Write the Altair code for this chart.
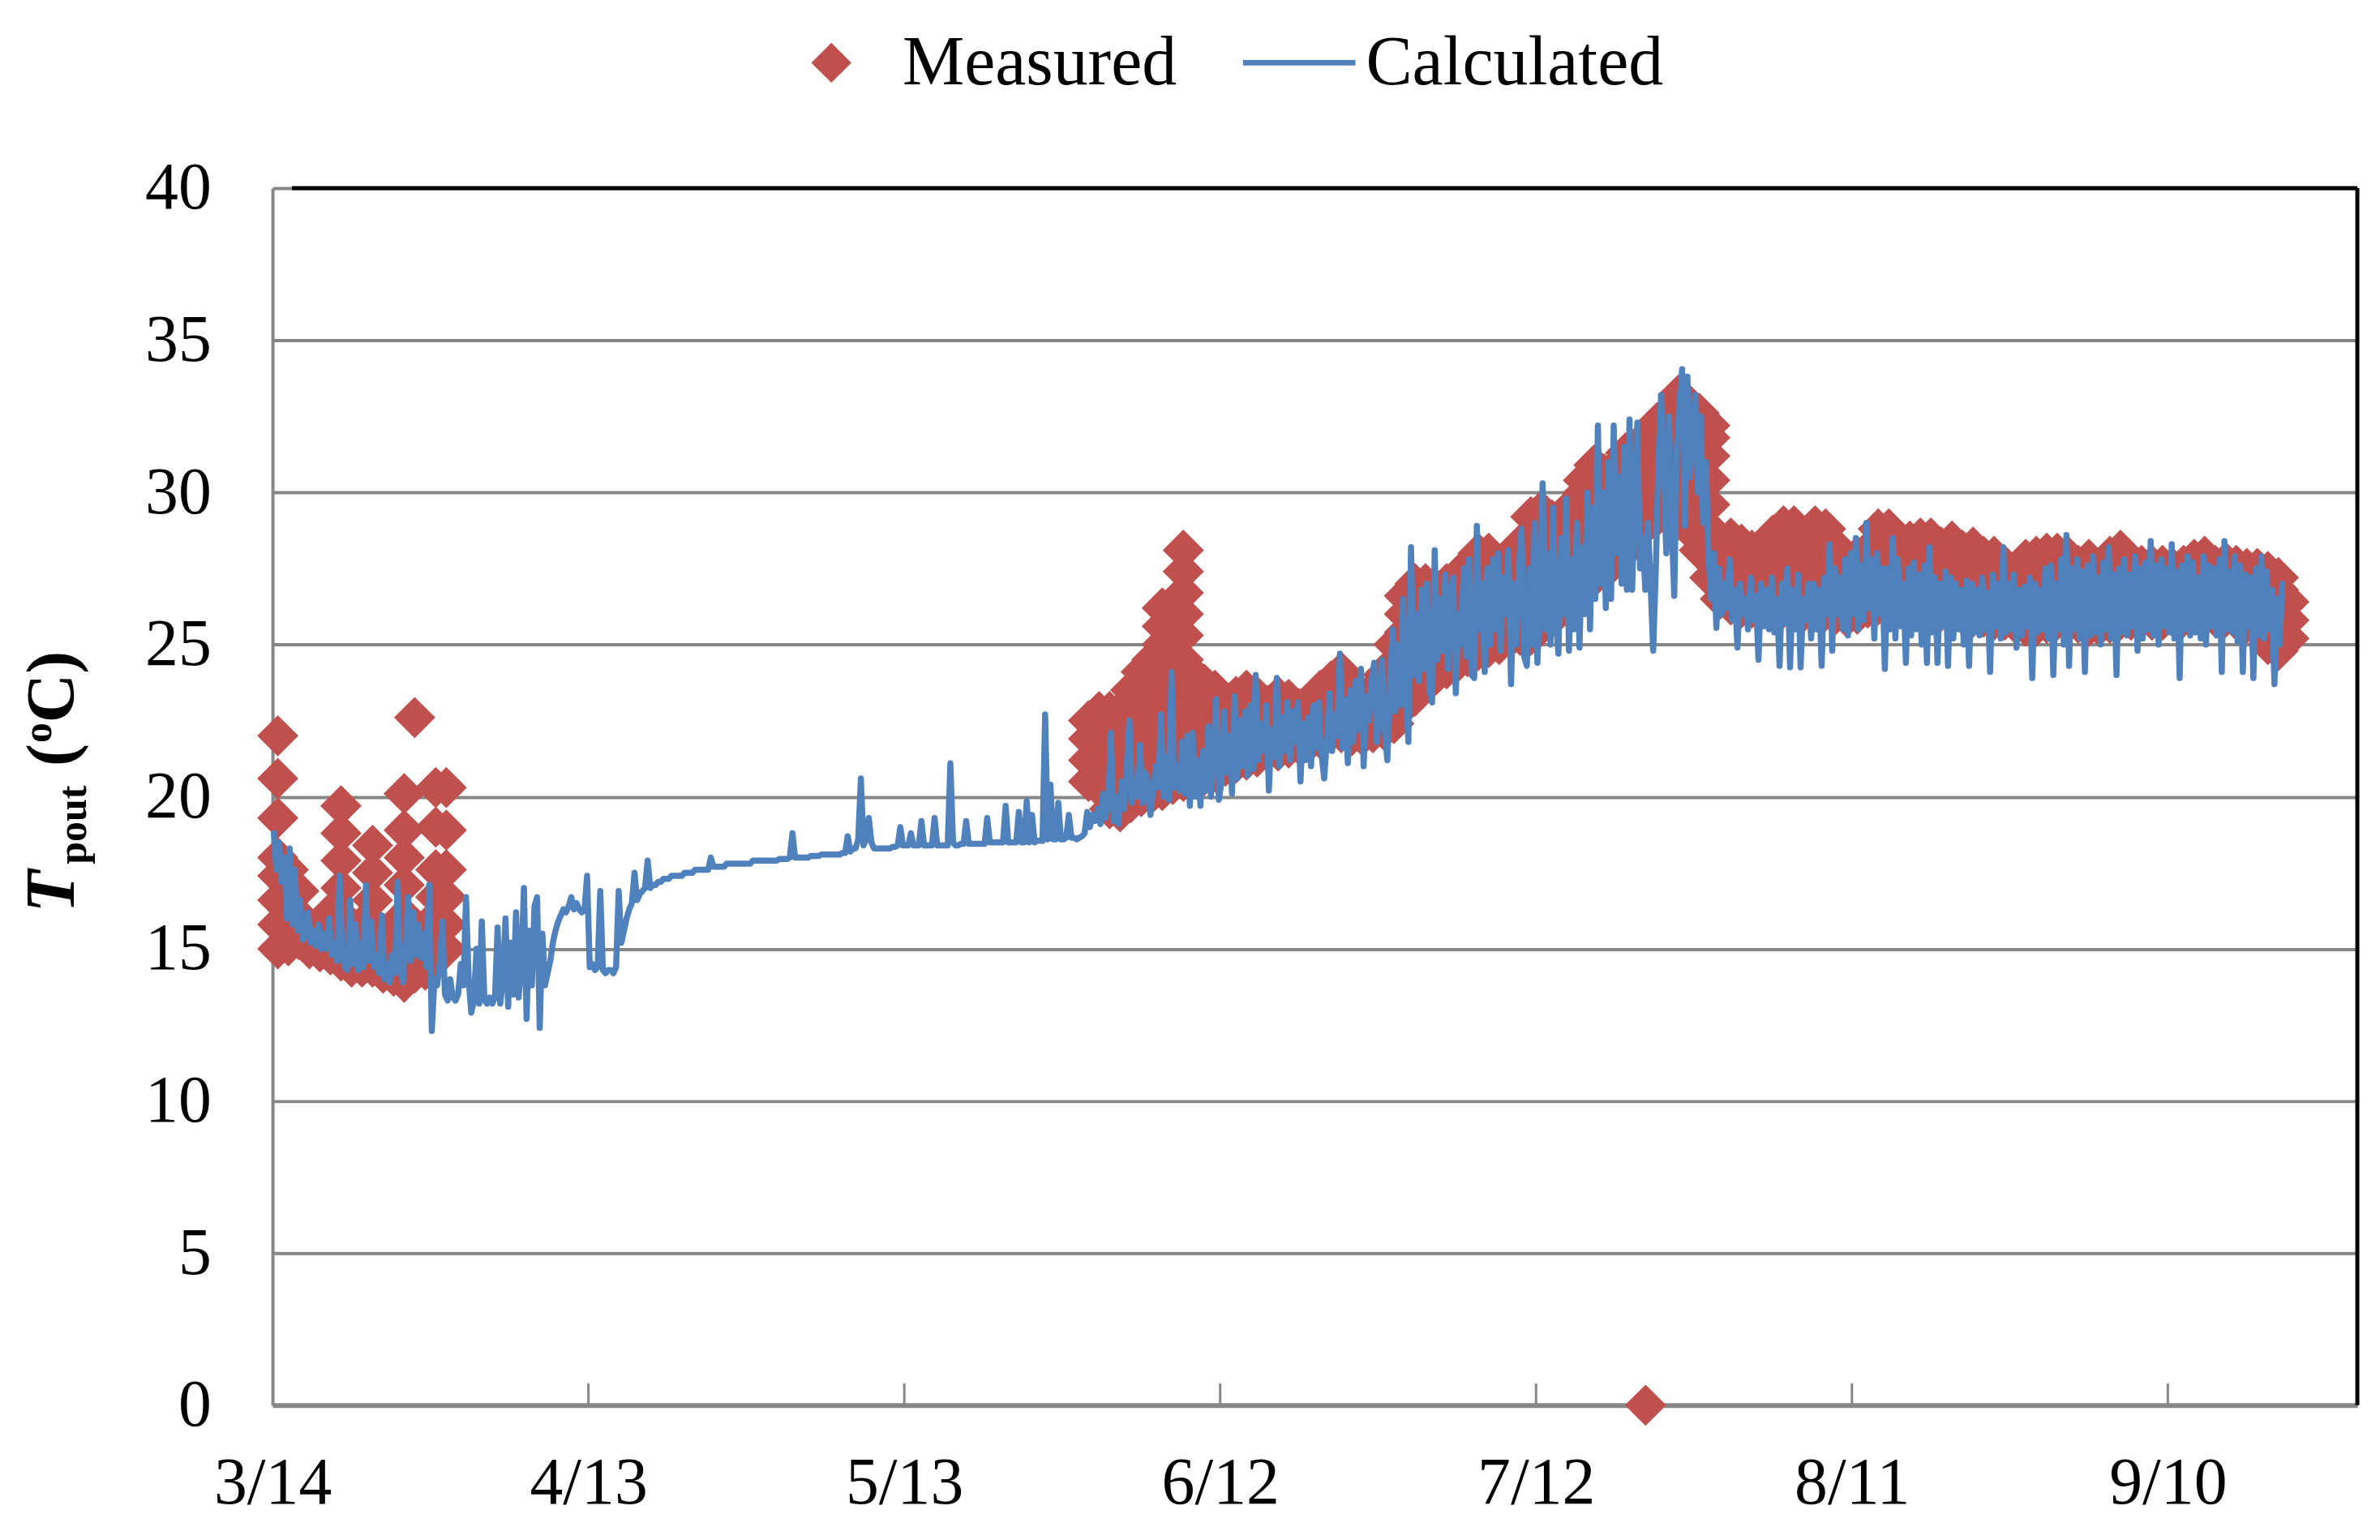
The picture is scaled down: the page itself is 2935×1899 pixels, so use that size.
import altair as alt
import pandas as pd

# ---------------- data (day 0 = 3/14) ----------------
TICK_DAYS = [0, 30, 60, 90, 120, 150, 180]
TICK_LABELS = ["3/14", "4/13", "5/13", "6/12", "7/12", "8/11", "9/10"]
Y_TICKS = [0, 5, 10, 15, 20, 25, 30, 35, 40]

# Measured readings, one list per day
MEAS_EARLY_START = 0
MEAS_EARLY = [
    [15.0, 15.8, 16.6, 17.4, 18.0, 19.3, 20.6, 22.0],
    [15.1, 15.9, 16.8, 17.6],
    [15.3, 16.1, 16.9],
    [15.0, 15.6],
    [14.9, 15.5],
    [14.8, 15.4, 16.2],
    [14.6, 15.3, 16.1, 17.0, 17.9, 18.8, 19.7],
    [14.4, 15.0],
    [14.4, 15.1, 15.8],
    [14.4, 15.1, 15.8, 16.6, 17.5, 18.4],
    [14.2, 14.9],
    [14.1, 14.8, 15.6],
    [13.9, 14.6, 15.3, 16.1, 17.1, 18.0, 18.9, 20.1],
    [14.2, 15.0, 22.6],
    [14.3, 15.0, 15.7],
    [14.9, 15.8, 16.7, 17.6, 19.0, 20.3],
    [15.0, 15.8, 16.7, 17.6, 18.9, 20.3],
]

MEAS_MAIN_START = 77
MEAS_MAIN = [
    [20.5, 21.2, 21.9, 22.5],
    [20.3, 21.0, 21.7, 22.3, 22.8],
    [19.6, 20.4, 21.2, 22.0, 22.8],
    [19.5, 20.3, 21.1, 21.9, 22.8],
    [19.8, 20.6, 21.4, 22.2, 22.9, 23.5],
    [20.0, 20.8, 21.6, 22.4, 23.3, 24.1],
    [20.1, 20.9, 21.7, 22.5, 23.3, 24.0, 24.5],
    [20.2, 21.0, 21.8, 22.6, 23.4, 24.2, 25.0, 25.6, 26.2],
    [20.4, 21.2, 22.0, 22.8, 23.6, 24.3, 25.0],
    [20.5, 21.3, 22.1, 22.9, 23.7, 24.5, 25.3, 26.0, 26.7, 27.4, 28.1],
    [20.6, 21.4, 22.2, 23.0, 23.6, 24.0],
    [20.7, 21.5, 22.3, 23.0, 23.7],
    [20.8, 21.6, 22.4, 23.0, 23.5],
    [21.0, 21.7, 22.3, 22.9],
    [21.1, 21.8, 22.6, 23.3],
    [21.2, 21.9, 22.7, 23.5],
    [21.3, 22.0, 22.7, 23.3],
    [21.5, 22.2, 23.0],
    [21.5, 22.2, 22.8, 23.3],
    [21.6, 22.3, 22.8, 23.2],
    [21.7, 22.3, 22.9],
    [21.8, 22.5, 23.1],
    [21.9, 22.6, 23.1, 23.5],
    [22.1, 22.7, 23.3, 23.8],
    [22.1, 22.8, 23.5, 24.1],
    [22.0, 22.7, 23.2, 23.6],
    [22.0, 22.5, 22.9],
    [22.1, 22.8, 23.5],
    [22.2, 22.9, 23.5, 24.0],
    [22.4, 23.1, 23.8, 24.4, 25.0],
    [23.0, 23.8, 24.6, 25.4, 26.0, 26.6],
    [23.3, 24.1, 24.9, 25.7, 26.4, 27.0],
    [23.8, 24.6, 25.4, 26.2, 27.0],
    [24.0, 24.8, 25.6, 26.3, 26.8],
    [24.2, 25.0, 25.8, 26.5, 27.0],
    [24.4, 25.2, 26.0, 26.7, 27.2],
    [24.6, 25.4, 26.2, 27.0, 27.6],
    [24.8, 25.6, 26.4, 27.2, 28.0],
    [24.9, 25.7, 26.5, 27.3, 28.0],
    [25.0, 25.8, 26.6, 27.3],
    [25.2, 26.0, 26.8, 27.5],
    [25.3, 26.1, 26.9, 27.6, 28.3],
    [25.3, 26.1, 26.9, 27.7, 28.5, 29.2],
    [25.6, 26.4, 27.2, 28.0, 28.8, 29.4],
    [25.9, 26.7, 27.5, 28.3, 29.1],
    [26.2, 27.0, 27.7, 28.4, 29.0],
    [26.5, 27.3, 28.1, 28.9, 29.6],
    [26.9, 27.7, 28.5, 29.3, 30.0, 30.4],
    [27.2, 28.0, 28.8, 29.6, 30.3, 30.9],
    [27.4, 28.2, 29.0, 29.8, 30.6],
    [27.8, 28.6, 29.4, 30.1, 30.8],
    [28.1, 28.9, 29.7, 30.5, 31.3],
    [28.6, 29.4, 30.2, 30.9, 31.5],
    [29.2, 29.9, 30.6, 31.2, 31.7],
    [29.2, 30.0, 30.8, 31.6, 32.3],
    [29.2, 30.0, 30.9, 31.8, 32.6],
    [29.1, 29.9, 30.8, 31.6, 32.4, 33.2],
    [28.8, 29.6, 30.5, 31.3, 32.1, 32.9],
    [28.1, 28.9, 29.7, 30.5, 31.3, 32.0, 32.6],
    [27.2, 28.0, 28.8, 29.6, 30.4, 31.2, 31.8, 32.2],
    [26.5, 27.2, 27.8, 28.3],
    [26.3, 27.1, 27.8, 28.5],
    [26.2, 26.9, 27.6, 28.3],
    [26.2, 26.9, 27.5, 28.1],
    [26.3, 27.0, 27.6, 28.1],
    [26.2, 26.9, 27.7, 28.6],
    [26.2, 27.0, 27.8, 28.4, 28.9],
    [26.2, 27.0, 27.8, 28.4, 28.9],
    [26.1, 26.9, 27.7, 28.5],
    [26.1, 26.9, 27.7, 28.4, 28.9],
    [26.1, 26.9, 27.7, 28.3, 28.8],
    [26.0, 26.8, 27.5, 28.2],
    [25.9, 26.6, 27.1, 27.5],
    [26.0, 26.7, 27.4, 27.9],
    [26.2, 26.9, 27.6, 28.1],
    [26.3, 27.1, 27.9, 28.4, 28.8],
    [26.3, 27.1, 27.9, 28.4, 28.8],
    [26.3, 27.0, 27.7, 28.4],
    [26.2, 27.0, 27.7, 28.4],
    [26.3, 27.1, 27.9, 28.5],
    [26.3, 27.1, 27.9, 28.5],
    [26.1, 26.9, 27.6, 28.2],
    [26.0, 26.8, 27.6, 28.4],
    [26.0, 26.8, 27.5, 28.1],
    [25.9, 26.7, 27.5, 28.2],
    [25.9, 26.6, 27.3, 27.9],
    [25.8, 26.6, 27.3, 27.9],
    [25.8, 26.5, 27.1, 27.6],
    [25.7, 26.4, 27.0, 27.4],
    [25.6, 26.4, 27.1, 27.8],
    [25.6, 26.4, 27.2, 27.9],
    [25.7, 26.5, 27.3, 28.0],
    [25.8, 26.6, 27.3, 28.0],
    [25.8, 26.5, 27.3, 27.9],
    [25.7, 26.4, 27.0, 27.6],
    [25.6, 26.4, 27.1, 27.8],
    [25.6, 26.3, 26.9, 27.5],
    [25.7, 26.5, 27.2, 27.9],
    [25.8, 26.6, 27.4, 28.1],
    [25.8, 26.5, 27.1, 27.7],
    [25.9, 26.6, 27.1, 27.6],
    [25.8, 26.5, 27.1, 27.6],
    [25.8, 26.5, 27.1, 27.6],
    [25.9, 26.5, 27.0, 27.5],
    [25.9, 26.5, 27.1, 27.6],
    [26.0, 26.7, 27.3, 27.8],
    [26.0, 26.7, 27.4, 27.9],
    [25.9, 26.6, 27.1, 27.6],
    [25.9, 26.6, 27.2, 27.7],
    [25.8, 26.5, 27.1, 27.6],
    [25.7, 26.4, 27.0, 27.5],
    [25.6, 26.3, 26.9, 27.5],
    [25.0, 25.7, 26.4, 27.0, 27.4],
    [24.8, 25.5, 26.2, 26.8, 27.2],
    [25.2, 25.8, 26.4],
]

MEAS_OUTLIER_DAY = [130.4]
MEAS_OUTLIER_VAL = [0.0]

# Calculated: four 6-hourly values per day
CALC_START = 0
CALC = [
    [18.8, 17.6, 18.5, 17.2], [18.0, 16.0, 18.3, 15.8], [17.6, 15.6, 16.6, 15.3],
    [15.4, 16.2, 15.2, 15.6], [15.1, 15.8, 15.0, 15.5], [15.0, 16.0, 14.8, 15.2],
    [14.6, 17.4, 14.8, 14.4], [14.3, 16.6, 14.5, 15.8], [14.3, 15.2, 14.4, 17.1],
    [14.6, 15.9, 14.4, 14.8], [14.2, 16.1, 14.0, 14.5], [13.9, 14.8, 14.2, 17.2],
    [14.5, 13.9, 15.0, 16.7], [14.6, 16.2, 14.8, 15.8], [14.7, 15.5, 14.4, 17.1],
    [12.3, 14.0, 13.8, 14.5], [15.9, 13.5, 13.3, 14.0], [13.4, 13.3, 13.5, 14.5],
    [13.8, 16.7, 14.0, 12.9], [13.3, 15.0, 13.2, 15.9], [13.3, 13.2, 13.4, 13.2],
    [13.4, 15.7, 13.2, 14.0], [16.0, 13.1, 15.2, 13.5], [16.2, 13.4, 14.5, 17.0],
    [12.7, 15.6, 13.8, 16.4], [16.7, 12.4, 15.5, 13.8], [14.2, 14.6, 15.2, 15.6],
    [15.9, 16.1, 16.3, 16.2], [16.4, 16.7, 16.3, 16.5], [16.3, 16.2, 16.3, 17.4],
    [14.4, 14.5, 14.3, 14.4], [16.9, 14.3, 14.2, 14.3], [14.3, 14.2, 14.4, 16.9],
    [15.2, 15.6, 16.0, 16.3], [16.5, 17.5, 16.6, 16.8], [16.9, 17.0, 17.9, 17.0],
    [17.1, 17.1, 17.2, 17.2], [17.3, 17.3, 17.3, 17.4], [17.4, 17.4, 17.4, 17.4],
    [17.5, 17.5, 17.5, 17.5], [17.6, 17.6, 17.6, 17.6], [17.6, 17.6, 18.0, 17.7],
    [17.7, 17.7, 17.7, 17.7], [17.8, 17.8, 17.8, 17.8], [17.8, 17.8, 17.8, 17.8],
    [17.8, 17.8, 17.9, 17.9], [17.9, 17.9, 17.9, 17.9], [17.9, 17.9, 17.9, 17.9],
    [17.95, 17.95, 17.95, 17.95], [18.0, 18.8, 18.0, 18.0], [18.0, 18.0, 18.0, 18.0],
    [18.05, 18.05, 18.05, 18.05], [18.1, 18.1, 18.1, 18.1], [18.1, 18.1, 18.1, 18.1],
    [18.15, 18.15, 18.7, 18.2], [18.3, 18.3, 18.6, 20.6], [18.4, 18.6, 19.3, 18.5],
    [18.3, 18.3, 18.3, 18.3], [18.3, 18.3, 18.3, 18.35], [18.35, 18.4, 19.0, 18.4],
    [18.4, 18.4, 18.8, 18.4], [18.4, 18.4, 19.2, 18.4], [18.4, 18.4, 18.4, 19.3],
    [18.4, 18.4, 18.4, 18.4], [18.4, 21.1, 18.5, 18.4], [18.4, 18.45, 18.45, 19.2],
    [18.45, 18.45, 18.45, 18.45], [18.45, 18.45, 18.45, 19.3], [18.5, 18.5, 18.5, 18.5],
    [18.5, 18.5, 19.7, 18.5], [18.5, 18.5, 18.5, 19.5], [18.5, 18.5, 19.85, 18.5],
    [19.4, 18.5, 18.55, 18.55], [18.55, 22.7, 18.6, 20.4], [18.6, 18.6, 19.8, 18.6],
    [18.6, 18.65, 19.4, 18.65], [18.65, 18.6, 18.65, 18.7], [18.8, 19.5, 19.0, 19.4],
    [19.2, 19.6, 19.1, 20.1], [19.3, 19.8, 22.1, 19.2], [20.0, 19.1, 20.5, 19.6],
    [21.0, 22.5, 19.8, 20.4], [20.0, 21.7, 19.8, 20.8], [20.5, 19.4, 20.2, 21.0],
    [20.3, 22.7, 20.0, 21.3], [19.9, 24.1, 20.3, 21.0], [20.2, 21.8, 20.1, 22.0],
    [19.7, 22.1, 20.0, 21.2], [19.7, 21.5, 20.2, 22.3], [20.0, 21.6, 23.2, 19.9],
    [20.5, 22.8, 20.8, 22.0], [20.1, 23.3, 20.6, 22.5], [21.0, 22.8, 20.7, 23.0],
    [20.9, 24.0, 21.2, 22.4], [21.5, 23.0, 20.2, 22.2], [21.3, 23.9, 21.0, 22.6],
    [21.5, 23.1, 21.2, 22.8], [21.8, 23.1, 20.5, 22.4], [21.2, 22.6, 21.0, 23.0],
    [21.6, 23.1, 21.4, 20.6], [21.8, 23.4, 21.5, 22.7], [22.0, 24.7, 21.6, 23.2],
    [21.1, 23.5, 21.8, 23.8], [22.2, 24.2, 21.0, 23.3], [22.5, 23.8, 24.4, 21.8],
    [22.8, 24.5, 22.2, 21.2], [23.5, 25.5, 22.8, 25.0], [23.0, 26.5, 23.5, 21.8],
    [28.2, 24.0, 26.0, 23.8], [26.8, 24.2, 27.0, 23.5], [23.1, 28.1, 24.5, 26.5],
    [24.8, 27.3, 24.2, 26.8], [27.2, 23.4, 26.0, 25.0], [27.5, 24.6, 27.8, 24.0],
    [23.9, 28.9, 25.5, 27.0], [24.1, 27.5, 25.0, 27.8], [25.5, 28.0, 24.8, 27.2],
    [26.0, 28.1, 23.7, 27.0], [25.0, 27.6, 28.8, 24.6], [24.3, 27.5, 25.0, 29.0],
    [24.4, 26.5, 30.3, 25.5], [28.0, 25.0, 29.5, 25.8], [24.7, 28.5, 26.0, 29.8],
    [24.8, 27.8, 25.5, 29.0], [24.9, 28.2, 26.0, 30.0], [25.5, 29.5, 26.5, 32.2],
    [27.0, 30.0, 26.2, 31.0], [26.5, 32.2, 28.0, 30.5], [27.0, 31.5, 26.8, 32.4],
    [26.8, 30.0, 32.3, 27.5], [28.5, 26.8, 29.0, 27.0], [24.8, 27.5, 31.0, 33.2],
    [30.5, 28.0, 32.5, 29.0], [26.6, 31.5, 33.0, 34.05], [28.9, 33.8, 30.5, 32.0],
    [33.2, 30.0, 32.5, 29.0], [31.0, 28.0, 26.5, 28.0], [25.55, 27.5, 26.0, 27.0],
    [26.2, 27.8, 25.8, 26.8], [24.9, 27.0, 26.0, 26.5], [25.5, 27.2, 25.8, 26.6],
    [24.5, 27.0, 25.6, 26.8], [25.5, 27.2, 25.4, 26.5], [24.3, 27.0, 25.7, 27.5],
    [24.25, 26.8, 25.5, 27.3], [24.25, 26.5, 25.8, 27.0], [25.2, 27.0, 25.5, 26.8],
    [24.3, 27.2, 26.0, 28.3], [24.8, 27.5, 26.0, 27.2], [25.5, 27.8, 25.3, 28.0],
    [26.0, 28.5, 25.5, 27.6], [25.8, 29.0, 26.2, 27.8], [25.2, 28.0, 26.0, 27.5],
    [24.2, 27.5, 25.5, 28.5], [25.2, 27.8, 25.6, 27.0], [24.4, 27.5, 25.3, 27.7],
    [25.5, 27.3, 25.0, 27.6], [24.4, 28.2, 25.4, 27.2], [24.4, 27.0, 25.6, 27.4],
    [24.3, 27.2, 25.2, 27.0], [25.5, 26.8, 25.0, 27.1], [24.3, 27.0, 25.4, 26.8],
    [25.3, 27.2, 25.5, 26.7], [24.1, 27.3, 25.6, 27.0], [25.2, 28.2, 25.4, 27.0],
    [25.5, 27.3, 24.9, 26.8], [25.3, 26.9, 25.6, 27.2], [23.9, 27.0, 25.4, 26.8],
    [25.5, 27.5, 25.2, 27.6], [24.0, 27.0, 25.5, 27.8], [25.0, 28.6, 24.3, 27.5],
    [25.5, 27.8, 25.2, 27.4], [24.1, 27.6, 25.3, 27.9], [25.4, 27.2, 25.0, 27.7],
    [25.5, 28.2, 25.2, 27.3], [24.0, 27.5, 25.4, 27.8], [25.3, 27.3, 25.6, 27.9],
    [24.8, 27.5, 25.2, 27.7], [25.5, 28.4, 25.3, 27.6], [25.0, 27.8, 25.6, 27.5],
    [25.4, 28.3, 25.2, 27.4], [23.9, 27.6, 25.5, 27.9], [25.3, 27.7, 25.4, 27.2],
    [25.2, 27.9, 25.0, 27.6], [25.6, 27.5, 25.3, 27.8], [24.1, 28.4, 25.5, 27.4],
    [25.4, 27.9, 25.1, 27.6], [24.1, 27.3, 25.6, 27.2], [23.9, 27.5, 25.3, 27.9],
    [25.2, 27.4, 25.5, 26.8], [23.7, 26.5, 25.0, 27.0],
]

RED = "#C0504D"
BLUE = "#4F81BD"
GRID = "#878787"
FONT = "Liberation Serif"

# ---------------- tables ----------------
meas_rows = []
for start, block in ((MEAS_EARLY_START, MEAS_EARLY), (MEAS_MAIN_START, MEAS_MAIN)):
    for i, vals in enumerate(block):
        for v in vals:
            meas_rows.append({"day": start + i + 0.5, "v": v})
for d, v in zip(MEAS_OUTLIER_DAY, MEAS_OUTLIER_VAL):
    meas_rows.append({"day": d, "v": v})
meas_df = pd.DataFrame(meas_rows)

calc_rows = []
for i, vals in enumerate(CALC):
    n = len(vals)
    for k, v in enumerate(vals):
        calc_rows.append({"day": CALC_START + i + (k + 0.5) / n, "v": v})
calc_df = pd.DataFrame(calc_rows)

tick_df = pd.DataFrame({"day": TICK_DAYS[1:]})

W, H = 2578, 1505

label_expr = ""
for d, lab in zip(TICK_DAYS, TICK_LABELS):
    label_expr += f"datum.value == {d} ? '{lab}' : "
label_expr += "''"

x_enc = alt.X(
    "day:Q",
    scale=alt.Scale(domain=[0, 198], nice=False, zero=False),
    axis=alt.Axis(
        values=TICK_DAYS, labelExpr=label_expr, ticks=False, grid=False,
        domainColor=GRID, domainWidth=6, labelFont=FONT, labelFontSize=82,
        labelColor="black", labelPadding=56, labelFlush=False, labelOverlap=False,
        title=None,
    ),
)
y_enc = alt.Y(
    "v:Q",
    scale=alt.Scale(domain=[0, 40], nice=False, zero=True),
    axis=alt.Axis(
        values=Y_TICKS, ticks=False, grid=True, gridColor=GRID, gridWidth=4,
        gridOpacity=1, domainColor=GRID, domainWidth=4, labelFont=FONT,
        labelFontSize=82, labelColor="black", labelPadding=76, title=None,
    ),
)

meas = alt.Chart(meas_df).mark_point(
    shape="diamond", filled=True, size=2600, color=RED, opacity=1, strokeWidth=0
).encode(x=x_enc, y=y_enc)

calc = alt.Chart(calc_df).mark_line(
    color=BLUE, strokeWidth=7.5, strokeJoin="round", strokeCap="round"
).encode(x="day:Q", y="v:Q", order="day:Q")

ticks_in = alt.Chart(tick_df).mark_rule(color=GRID, strokeWidth=3).encode(
    x="day:Q", y=alt.value(H), y2=alt.value(H - 27)
)

frame_top = alt.Chart(pd.DataFrame({"a": [0]})).mark_rule(
    color="black", strokeWidth=5
).encode(x=alt.value(24), x2=alt.value(W), y=alt.value(0))
frame_right = alt.Chart(pd.DataFrame({"a": [0]})).mark_rule(
    color="black", strokeWidth=5
).encode(x=alt.value(W), y=alt.value(0), y2=alt.value(H))


def txt(s, x, y, size, style="normal", weight="normal", align="left", angle=0):
    return alt.Chart(pd.DataFrame({"t": [s]})).mark_text(
        font=FONT, fontSize=size, fontStyle=style, fontWeight=weight,
        align=align, baseline="alphabetic", angle=angle, color="black",
    ).encode(x=alt.value(x), y=alt.value(y), text="t:N")


# legend
leg_diamond = alt.Chart(pd.DataFrame({"a": [0]})).mark_point(
    shape="diamond", filled=True, size=2450, color=RED, opacity=1, strokeWidth=0
).encode(x=alt.value(691), y=alt.value(-155))
leg_line = alt.Chart(pd.DataFrame({"a": [0]})).mark_rule(
    color=BLUE, strokeWidth=7
).encode(x=alt.value(1200), x2=alt.value(1339), y=alt.value(-155))
leg_t1 = txt("Measured", 779, -128, 86)
leg_t2 = txt("Calculated", 1352, -128, 86)

# y-axis title: T_pout (oC)
XS = 8  # small shift to keep glyph boxes inside the page
yt_T = txt("T", -254 + XS, 896, 86, style="italic", weight="bold", angle=270)
yt_sub = txt("pout", -239 + XS, 836, 50, weight="bold", angle=270)
yt_p1 = txt("(", -254 + XS, 715, 84, weight="bold", angle=270)
yt_o = txt("o", -282 + XS, 686, 50, weight="bold", angle=270)
yt_p2 = txt("C)", -254 + XS, 661, 84, weight="bold", angle=270)

chart = alt.layer(
    meas, calc, ticks_in, frame_top, frame_right,
    leg_diamond, leg_line, leg_t1, leg_t2,
    yt_T, yt_sub, yt_p1, yt_o, yt_p2,
).properties(
    width=W, height=H,
    autosize=alt.AutoSizeParams(type="none"),
    padding={"left": 329, "top": 222, "right": 20, "bottom": 150},
    background="white",
).configure_view(stroke=None)

chart.save("out.html", embed_options={"renderer": "svg", "actions": False})
